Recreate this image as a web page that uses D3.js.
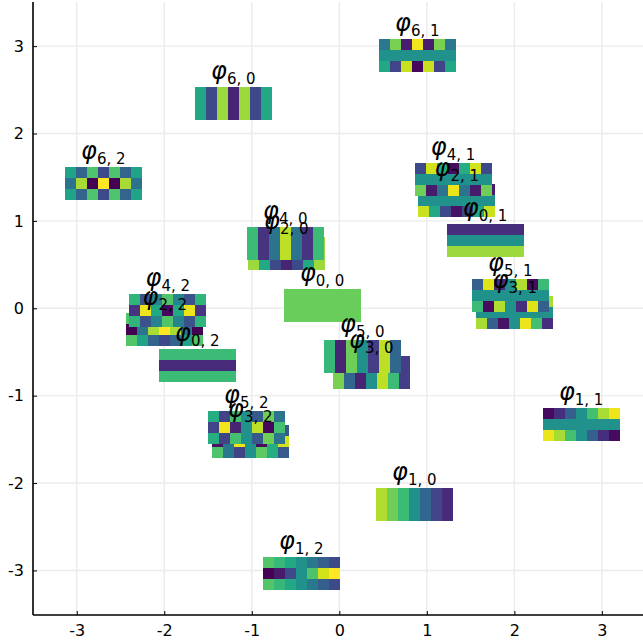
<!DOCTYPE html>
<html>
<head>
<meta charset="utf-8">
<script src="https://cdn.jsdelivr.net/npm/d3@7"></script>
<style>
body { margin: 0; background: #fff; }
text { font-family: "DejaVu Sans", sans-serif; }
</style>
</head>
<body>
<svg id="chart" width="643" height="642"></svg>
<script>
const tickValues = [-3, -2, -1, 0, 1, 2, 3];
const xDomain = [-3.5, 3.47];
const yDomain = [-3.51, 3.505];

// which basis function each patch shows, and where its centre sits
const orders = [0, 0, 0, 1, 1, 1, 2, 2, 2, 3, 3, 3, 4, 4, 4, 5, 5, 5, 6, 6, 6];
const modes = [0, 1, 2, 0, 1, 2, 0, 1, 2, 0, 1, 2, 0, 1, 2, 0, 1, 2, 0, 1, 2];
const centerX = [-0.196, 1.665, -1.623, 0.857, 2.763, -0.434, -0.606, 1.343, -1.994, 0.366, 2.006, -1.017, -0.617, 1.3, -1.96, 0.263, 1.954, -1.063, -1.211, 0.891, -2.697];
const centerY = [0.032, 0.776, -0.655, -2.247, -1.331, -3.037, 0.628, 1.229, -0.243, -0.735, -0.048, -1.525, 0.742, 1.475, -0.025, -0.552, 0.147, -1.365, 2.345, 2.895, 1.429];

const patchCols = 7;
const patchRows = 3;
const patchWidth = 0.88;
const patchHeight = 0.378;

// cell values, top row first
const phi00 = [[.77,.77,.77,.77,.77,.77,.77],[.77,.77,.77,.77,.77,.77,.77],[.77,.77,.77,.77,.77,.77,.77]];
const phi01 = [[.13,.13,.13,.13,.13,.13,.13],[.5,.5,.5,.5,.5,.5,.5],[.85,.85,.85,.85,.85,.85,.85]];
const phi02 = [[.68,.68,.68,.68,.68,.68,.68],[.12,.12,.12,.12,.12,.12,.12],[.68,.68,.68,.68,.68,.68,.68]];
const phi10 = [[.88,.78,.68,.5,.33,.2,.12],[.88,.78,.68,.5,.33,.2,.12],[.88,.78,.68,.5,.33,.2,.12]];
const phi11 = [[.03,.13,.3,.5,.7,.87,.97],[.5,.5,.5,.5,.5,.5,.5],[.97,.87,.7,.5,.3,.13,.03]];
const phi12 = [[.73,.67,.6,.5,.4,.3,.22],[0,.07,.22,.5,.72,.93,1],[.73,.67,.6,.5,.4,.3,.22]];
const phi20 = [[.85,.6,.22,.1,.22,.6,.85],[.85,.6,.22,.1,.22,.6,.85],[.85,.6,.22,.1,.22,.6,.85]];
const phi21 = [[.08,.4,.78,.95,.78,.4,.08],[.5,.5,.5,.5,.5,.5,.5],[.92,.6,.22,.05,.22,.6,.92]];
const phi22 = [[.73,.58,.32,.22,.32,.58,.73],[0,.38,.87,1,.87,.38,0],[.73,.58,.32,.22,.32,.58,.73]];
const phi30 = [[.8,.33,.1,.5,.9,.68,.18],[.8,.33,.1,.5,.9,.68,.18],[.8,.33,.1,.5,.9,.68,.18]];
const phi31 = [[.13,.7,.95,.5,.03,.3,.87],[.5,.5,.5,.5,.5,.5,.5],[.87,.3,.05,.5,.97,.7,.13]];
const phi32 = [[.72,.4,.2,.5,.75,.62,.28],[.05,.38,.97,.5,.03,.62,.93],[.72,.4,.2,.5,.75,.62,.28]];
const phi40 = [[.68,.15,.38,.9,.38,.15,.68],[.68,.15,.38,.9,.38,.15,.68],[.68,.15,.38,.9,.38,.15,.68]];
const phi41 = [[.22,.93,.62,.03,.62,.93,.22],[.5,.5,.5,.5,.5,.5,.5],[.78,.07,.38,.97,.38,.07,.78]];
const phi42 = [[.65,.25,.45,.73,.45,.25,.65],[.15,.97,.6,.02,.6,.97,.15],[.65,.25,.45,.73,.45,.25,.65]];
const phi50 = [[.67,.1,.78,.5,.18,.9,.33],[.67,.1,.78,.5,.18,.9,.33],[.67,.1,.78,.5,.18,.9,.33]];
const phi51 = [[.3,.95,.12,.5,.88,.03,.68],[.5,.5,.5,.5,.5,.5,.5],[.68,.03,.88,.5,.13,.95,.3]];
const phi52 = [[.62,.2,.7,.5,.28,.78,.38],[.2,.98,.1,.5,.9,.02,.7],[.62,.2,.7,.5,.28,.78,.38]];
const phi60 = [[.6,.22,.85,.1,.85,.22,.6],[.6,.22,.85,.1,.85,.22,.6],[.6,.22,.85,.1,.85,.22,.6]];
const phi61 = [[.4,.8,.08,.98,.08,.8,.4],[.5,.5,.5,.5,.5,.5,.5],[.6,.2,.92,.02,.92,.2,.6]];
const phi62 = [[.58,.32,.72,.22,.72,.32,.58],[.38,.87,0,1,0,.87,.38],[.58,.32,.72,.22,.72,.32,.58]];

const patches = [phi00, phi01, phi02, phi10, phi11, phi12, phi20, phi21, phi22, phi30, phi31, phi32,
    phi40, phi41, phi42, phi50, phi51, phi52, phi60, phi61, phi62];

const width = 643;
const height = 642;
const marginLeft = 33;
const marginRight = 0;
const marginTop = 2;
const marginBottom = 27;

const svg = d3.select("#chart");

const xscale = d3.scaleLinear().domain(xDomain).range([marginLeft, width - marginRight]);
const yscale = d3.scaleLinear().domain(yDomain).range([height - marginBottom, marginTop]);

const grid = svg.append("g");

grid.selectAll("line.v")
    .data(tickValues)
    .join("line")
    .attr("class", "v")
    .attr("x1", d => xscale(d))
    .attr("x2", d => xscale(d))
    .attr("y1", yscale.range()[1])
    .attr("y2", yscale.range()[0])
    .style("stroke", "#ebebeb")
    .style("stroke-width", 1.4);

grid.selectAll("line.h")
    .data(tickValues)
    .join("line")
    .attr("class", "h")
    .attr("x1", xscale.range()[0])
    .attr("x2", xscale.range()[1])
    .attr("y1", d => yscale(d))
    .attr("y2", d => yscale(d))
    .style("stroke", "#ebebeb")
    .style("stroke-width", 1.4);

const cells = svg.append("g");

patches.forEach((rows, i) => {
    const left = centerX[i] - patchWidth / 2;
    const top = centerY[i] + patchHeight / 2;
    const cellW = patchWidth / patchCols;
    const cellH = patchHeight / patchRows;

    rows.forEach((row, r) => {
        cells.append("g").selectAll("rect")
            .data(row)
            .join("rect")
            .attr("x", (d, c) => xscale(left + c * cellW))
            .attr("y", yscale(top - r * cellH))
            .attr("width", xscale(left + cellW) - xscale(left))
            .attr("height", yscale(0) - yscale(cellH))
            .attr("shape-rendering", "crispEdges")
            .style("fill", d => d3.interpolateViridis(d));
    });
});

const labels = svg.append("g");

patches.forEach((rows, i) => {
    const label = labels.append("text")
        .attr("x", xscale(centerX[i]))
        .attr("y", yscale(centerY[i] + patchHeight / 2) - 8)
        .attr("text-anchor", "middle")
        .style("fill", "#000");
    label.append("tspan")
        .style("font-size", "24px")
        .style("font-style", "italic")
        .text("φ");
    label.append("tspan")
        .attr("dy", 5)
        .style("font-size", "15px")
        .text(`${orders[i]}, ${modes[i]}`);
});

const xAxis = d3.axisBottom(xscale).tickValues(tickValues).tickSize(-4).tickPadding(10)
    .tickFormat(d => String(d));
const yAxis = d3.axisLeft(yscale).tickValues(tickValues).tickSize(-4).tickPadding(9)
    .tickFormat(d => String(d));

svg.append("g")
    .attr("transform", `translate(0,${yscale.range()[0]})`)
    .call(xAxis)
    .call(g => g.select(".domain").attr("d", `M${xscale.range()[0]},0H${xscale.range()[1]}`).style("stroke-width", 1.6))
    .attr("font-size", 16)
    .attr("font-family", "DejaVu Sans");

svg.append("g")
    .attr("transform", `translate(${xscale.range()[0]},0)`)
    .call(yAxis)
    .call(g => g.select(".domain").attr("d", `M0,${yscale.range()[1]}V${yscale.range()[0]}`).style("stroke-width", 1.6))
    .attr("font-size", 16)
    .attr("font-family", "DejaVu Sans");
</script>
</body>
</html>
